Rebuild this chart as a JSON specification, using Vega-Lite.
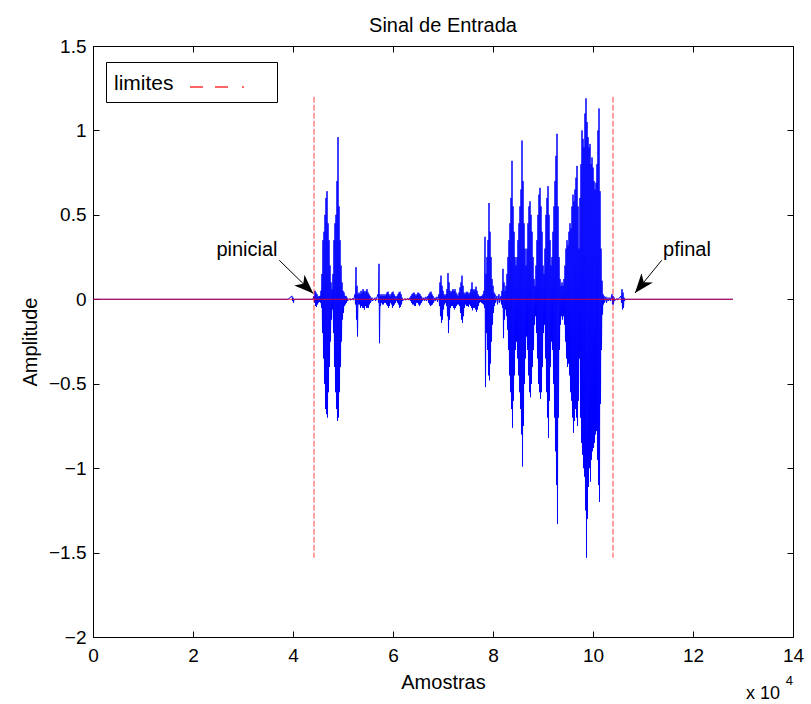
{
  "$schema": "https://vega.github.io/schema/vega-lite/v6.json",
  "width": 700,
  "height": 591,
  "autosize": "none",
  "padding": {"left": 93, "top": 46, "right": 18, "bottom": 67},
  "background": "white",
  "title": {"text": "Sinal de Entrada", "fontSize": 20, "fontWeight": "normal", "font": "Liberation Sans", "color": "black", "anchor": "middle", "baseline": "alphabetic", "offset": -15},
  "config": {
    "font": "Liberation Sans",
    "view": {"stroke": null},
    "axis": {"grid": false, "domainColor": "black", "tickColor": "black", "labelColor": "black", "titleColor": "black", "labelFontSize": 19, "titleFontSize": 20, "titleFontWeight": "normal", "labelFont": "Liberation Sans", "titleFont": "Liberation Sans", "tickSize": -6, "domainWidth": 1, "tickWidth": 1, "labelFlush": false, "labelOverlap": false}
  },
  "datasets": {
    "signal": [
      {"x":0,"y":0},{"x":39000,"y":0},{"x":39800,"y":0.02},{"x":39900,"y":-0.01},{"x":40000,"y":0.01},{"x":40100,"y":-0.02},{"x":40200,"y":0},{"x":44000,"y":0},
      {"x":44200,"y":0.02},{"x":44300,"y":-0.02},{"x":44400,"y":0.05},{"x":44500,"y":-0.04},{"x":44600,"y":0.04},{"x":44700,"y":-0.045},{"x":44800,"y":0.03},{"x":44900,"y":-0.03},
      {"x":45000,"y":0.015},{"x":45100,"y":-0.02},{"x":45200,"y":0.02},{"x":45300,"y":-0.015},{"x":45400,"y":0.02},{"x":45500,"y":-0.02},{"x":45600,"y":0.05},{"x":45700,"y":-0.05},
      {"x":45800,"y":0.15},{"x":45900,"y":-0.2},{"x":46000,"y":0.35},{"x":46100,"y":-0.35},{"x":46200,"y":0.4},{"x":46300,"y":-0.5},{"x":46400,"y":0.5},{"x":46500,"y":-0.65},
      {"x":46600,"y":0.6},{"x":46700,"y":-0.68},{"x":46800,"y":0.64},{"x":46900,"y":-0.7},{"x":47000,"y":0.45},{"x":47100,"y":-0.55},{"x":47200,"y":0.35},{"x":47300,"y":-0.4},
      {"x":47400,"y":0.2},{"x":47500,"y":-0.25},{"x":47600,"y":0.1},{"x":47700,"y":-0.12},{"x":47800,"y":0.06},{"x":47900,"y":-0.06},{"x":48000,"y":0.15},{"x":48100,"y":-0.2},
      {"x":48200,"y":0.35},{"x":48300,"y":-0.4},{"x":48400,"y":0.45},{"x":48500,"y":-0.55},{"x":48600,"y":0.5},{"x":48700,"y":-0.65},{"x":48800,"y":0.7},{"x":48900,"y":-0.72},
      {"x":49000,"y":0.96},{"x":49100,"y":-0.7},{"x":49200,"y":0.55},{"x":49300,"y":-0.55},{"x":49400,"y":0.35},{"x":49500,"y":-0.4},{"x":49600,"y":0.2},{"x":49700,"y":-0.25},
      {"x":49800,"y":0.1},{"x":49900,"y":-0.12},{"x":50000,"y":0.05},{"x":50100,"y":-0.08},{"x":50200,"y":0.04},{"x":50300,"y":-0.04},{"x":50400,"y":0.02},{"x":50500,"y":-0.03},
      {"x":50600,"y":0.02},{"x":50700,"y":-0.02},{"x":50800,"y":0.01},{"x":50900,"y":-0.01},{"x":51400,"y":0.005},{"x":51500,"y":-0.005},{"x":52000,"y":0.005},{"x":52100,"y":-0.005},
      {"x":52400,"y":0.03},{"x":52500,"y":-0.03},{"x":52600,"y":0.19},{"x":52700,"y":-0.12},{"x":52800,"y":0.08},{"x":52900,"y":-0.22},{"x":53000,"y":0.03},{"x":53100,"y":-0.03},
      {"x":53200,"y":0.04},{"x":53300,"y":-0.03},{"x":53400,"y":0.03},{"x":53500,"y":-0.05},{"x":53600,"y":0.05},{"x":53700,"y":-0.04},{"x":53800,"y":0.04},{"x":53900,"y":-0.05},
      {"x":54000,"y":0.06},{"x":54100,"y":-0.05},{"x":54200,"y":0.05},{"x":54300,"y":-0.06},{"x":54400,"y":0.04},{"x":54500,"y":-0.04},{"x":54600,"y":0.05},{"x":54700,"y":-0.05},
      {"x":54800,"y":0.06},{"x":54900,"y":-0.05},{"x":55000,"y":0.04},{"x":55100,"y":-0.05},{"x":55200,"y":0.03},{"x":55300,"y":-0.03},{"x":55400,"y":0.02},{"x":55500,"y":-0.02},
      {"x":55800,"y":0.01},{"x":55900,"y":-0.01},{"x":56400,"y":0.01},{"x":56500,"y":-0.01},{"x":57000,"y":0.03},{"x":57100,"y":-0.02},{"x":57200,"y":0.21},{"x":57300,"y":-0.26},
      {"x":57400,"y":0.03},{"x":57500,"y":-0.04},{"x":57600,"y":0.02},{"x":57700,"y":-0.02},{"x":57800,"y":0.03},{"x":57900,"y":-0.03},{"x":58000,"y":0.02},{"x":58100,"y":-0.03},
      {"x":58200,"y":0.03},{"x":58300,"y":-0.02},{"x":58400,"y":0.02},{"x":58500,"y":-0.02},{"x":58600,"y":0.03},{"x":58700,"y":-0.03},{"x":58800,"y":0.04},{"x":58900,"y":-0.04},
      {"x":59000,"y":0.045},{"x":59100,"y":-0.05},{"x":59200,"y":0.03},{"x":59300,"y":-0.04},{"x":59400,"y":0.02},{"x":59500,"y":-0.02},{"x":59600,"y":0.03},{"x":59700,"y":-0.03},
      {"x":59800,"y":0.04},{"x":59900,"y":-0.05},{"x":60000,"y":0.045},{"x":60100,"y":-0.04},{"x":60200,"y":0.03},{"x":60300,"y":-0.03},{"x":60400,"y":0.02},{"x":60500,"y":-0.02},
      {"x":60600,"y":0.01},{"x":60700,"y":-0.01},{"x":60800,"y":0.02},{"x":60900,"y":-0.02},{"x":61000,"y":0.03},{"x":61100,"y":-0.03},{"x":61200,"y":0.04},{"x":61300,"y":-0.05},
      {"x":61400,"y":0.045},{"x":61500,"y":-0.045},{"x":61600,"y":0.03},{"x":61700,"y":-0.03},{"x":61800,"y":0.01},{"x":61900,"y":-0.01},{"x":62400,"y":0.005},{"x":62500,"y":-0.005},
      {"x":63000,"y":0.005},{"x":63100,"y":-0.005},{"x":63400,"y":0.01},{"x":63500,"y":-0.01},{"x":63600,"y":0.02},{"x":63700,"y":-0.02},{"x":63800,"y":0.03},{"x":63900,"y":-0.03},
      {"x":64000,"y":0.035},{"x":64100,"y":-0.03},{"x":64200,"y":0.04},{"x":64300,"y":-0.04},{"x":64400,"y":0.03},{"x":64500,"y":-0.04},{"x":64600,"y":0.02},{"x":64700,"y":-0.02},
      {"x":64800,"y":0.03},{"x":64900,"y":-0.02},{"x":65000,"y":0.04},{"x":65100,"y":-0.03},{"x":65200,"y":0.035},{"x":65300,"y":-0.04},{"x":65400,"y":0.03},{"x":65500,"y":-0.03},
      {"x":65600,"y":0.02},{"x":65700,"y":-0.02},{"x":65800,"y":0.01},{"x":65900,"y":-0.01},{"x":66200,"y":0.01},{"x":66300,"y":-0.01},{"x":66600,"y":0.015},{"x":66700,"y":-0.01},
      {"x":67000,"y":0.02},{"x":67100,"y":-0.02},{"x":67200,"y":0.03},{"x":67300,"y":-0.03},{"x":67400,"y":0.04},{"x":67500,"y":-0.04},{"x":67600,"y":0.045},{"x":67700,"y":-0.035},
      {"x":67800,"y":0.03},{"x":67900,"y":-0.03},{"x":68000,"y":0.02},{"x":68100,"y":-0.02},{"x":68400,"y":0.01},{"x":68500,"y":-0.01},{"x":68800,"y":0.015},{"x":68900,"y":-0.015},
      {"x":69200,"y":0.03},{"x":69300,"y":-0.04},{"x":69400,"y":0.1},{"x":69500,"y":-0.1},{"x":69600,"y":0.14},{"x":69700,"y":-0.14},{"x":69800,"y":0.08},{"x":69900,"y":-0.12},
      {"x":70000,"y":0.05},{"x":70100,"y":-0.06},{"x":70200,"y":0.03},{"x":70300,"y":-0.03},{"x":70400,"y":0.02},{"x":70500,"y":-0.02},{"x":70600,"y":0.03},{"x":70700,"y":-0.04},
      {"x":70800,"y":0.06},{"x":70900,"y":-0.1},{"x":71000,"y":0.155},{"x":71100,"y":-0.2},{"x":71200,"y":0.1},{"x":71300,"y":-0.12},{"x":71400,"y":0.05},{"x":71500,"y":-0.05},
      {"x":71600,"y":0.04},{"x":71700,"y":-0.04},{"x":71800,"y":0.05},{"x":71900,"y":-0.04},{"x":72000,"y":0.06},{"x":72100,"y":-0.05},{"x":72200,"y":0.05},{"x":72300,"y":-0.06},
      {"x":72400,"y":0.06},{"x":72500,"y":-0.05},{"x":72600,"y":0.04},{"x":72700,"y":-0.04},{"x":72800,"y":0.03},{"x":72900,"y":-0.03},{"x":73000,"y":0.02},{"x":73100,"y":-0.03},
      {"x":73200,"y":0.04},{"x":73300,"y":-0.04},{"x":73400,"y":0.07},{"x":73500,"y":-0.08},{"x":73600,"y":0.1},{"x":73700,"y":-0.12},{"x":73800,"y":0.14},{"x":73900,"y":-0.14},
      {"x":74000,"y":0.08},{"x":74100,"y":-0.1},{"x":74200,"y":0.04},{"x":74300,"y":-0.05},{"x":74400,"y":0.03},{"x":74500,"y":-0.03},{"x":74600,"y":0.04},{"x":74700,"y":-0.04},
      {"x":74800,"y":0.045},{"x":74900,"y":-0.04},{"x":75000,"y":0.04},{"x":75100,"y":-0.045},{"x":75200,"y":0.03},{"x":75300,"y":-0.03},{"x":75400,"y":0.04},{"x":75500,"y":-0.04},
      {"x":75600,"y":0.06},{"x":75700,"y":-0.05},{"x":75800,"y":0.1},{"x":75900,"y":-0.065},{"x":76000,"y":0.06},{"x":76100,"y":-0.05},{"x":76200,"y":0.05},{"x":76300,"y":-0.05},
      {"x":76400,"y":0.06},{"x":76500,"y":-0.06},{"x":76600,"y":0.075},{"x":76700,"y":-0.075},{"x":76800,"y":0.05},{"x":76900,"y":-0.06},{"x":77000,"y":0.03},{"x":77100,"y":-0.04},
      {"x":77200,"y":0.02},{"x":77300,"y":-0.02},{"x":77400,"y":0.015},{"x":77500,"y":-0.015},{"x":77600,"y":0.02},{"x":77700,"y":-0.02},{"x":77800,"y":0.02},{"x":77900,"y":-0.025},
      {"x":78000,"y":0.03},{"x":78100,"y":-0.03},{"x":78200,"y":0.05},{"x":78300,"y":-0.05},{"x":78400,"y":0.37},{"x":78500,"y":-0.52},{"x":78600,"y":0.15},{"x":78700,"y":-0.2},
      {"x":78800,"y":0.25},{"x":78900,"y":-0.3},{"x":79000,"y":0.35},{"x":79100,"y":-0.45},{"x":79200,"y":0.57},{"x":79300,"y":-0.48},{"x":79400,"y":0.4},{"x":79500,"y":-0.38},
      {"x":79600,"y":0.25},{"x":79700,"y":-0.25},{"x":79800,"y":0.12},{"x":79900,"y":-0.15},{"x":80000,"y":0.08},{"x":80100,"y":-0.08},{"x":80200,"y":0.04},{"x":80300,"y":-0.04},
      {"x":80400,"y":0.03},{"x":80500,"y":-0.02},{"x":80800,"y":0.02},{"x":80900,"y":-0.03},{"x":81200,"y":0.03},{"x":81300,"y":-0.02},{"x":81600,"y":0.02},{"x":81700,"y":-0.03},
      {"x":81800,"y":0.05},{"x":81900,"y":-0.05},{"x":82000,"y":0.18},{"x":82100,"y":-0.23},{"x":82200,"y":0.1},{"x":82300,"y":-0.12},{"x":82400,"y":0.05},{"x":82500,"y":-0.06},
      {"x":82600,"y":0.08},{"x":82700,"y":-0.1},{"x":82800,"y":0.15},{"x":82900,"y":-0.18},{"x":83000,"y":0.25},{"x":83100,"y":-0.3},{"x":83200,"y":0.35},{"x":83300,"y":-0.45},
      {"x":83400,"y":0.45},{"x":83500,"y":-0.55},{"x":83600,"y":0.6},{"x":83700,"y":-0.65},{"x":83800,"y":0.82},{"x":83900,"y":-0.76},{"x":84000,"y":0.55},{"x":84100,"y":-0.6},
      {"x":84200,"y":0.4},{"x":84300,"y":-0.45},{"x":84400,"y":0.25},{"x":84500,"y":-0.3},{"x":84600,"y":0.2},{"x":84700,"y":-0.25},{"x":84800,"y":0.25},{"x":84900,"y":-0.35},
      {"x":85000,"y":0.35},{"x":85100,"y":-0.45},{"x":85200,"y":0.45},{"x":85300,"y":-0.55},{"x":85400,"y":0.55},{"x":85500,"y":-0.65},{"x":85600,"y":0.65},{"x":85700,"y":-0.8},
      {"x":85800,"y":0.94},{"x":85900,"y":-0.99},{"x":86000,"y":0.7},{"x":86100,"y":-0.75},{"x":86200,"y":0.45},{"x":86300,"y":-0.5},{"x":86400,"y":0.3},{"x":86500,"y":-0.35},
      {"x":86600,"y":0.2},{"x":86700,"y":-0.22},{"x":86800,"y":0.3},{"x":86900,"y":-0.3},{"x":87000,"y":0.45},{"x":87100,"y":-0.45},{"x":87200,"y":0.55},{"x":87300,"y":-0.55},
      {"x":87400,"y":0.58},{"x":87500,"y":-0.58},{"x":87600,"y":0.5},{"x":87700,"y":-0.5},{"x":87800,"y":0.4},{"x":87900,"y":-0.4},{"x":88000,"y":0.25},{"x":88100,"y":-0.3},
      {"x":88200,"y":0.12},{"x":88300,"y":-0.15},{"x":88400,"y":0.08},{"x":88500,"y":-0.1},{"x":88600,"y":0.2},{"x":88700,"y":-0.2},{"x":88800,"y":0.35},{"x":88900,"y":-0.35},
      {"x":89000,"y":0.5},{"x":89100,"y":-0.5},{"x":89200,"y":0.62},{"x":89300,"y":-0.55},{"x":89400,"y":0.66},{"x":89500,"y":-0.59},{"x":89600,"y":0.55},{"x":89700,"y":-0.55},
      {"x":89800,"y":0.4},{"x":89900,"y":-0.4},{"x":90000,"y":0.2},{"x":90100,"y":-0.2},{"x":90200,"y":0.15},{"x":90300,"y":-0.15},{"x":90400,"y":0.3},{"x":90500,"y":-0.35},
      {"x":90600,"y":0.5},{"x":90700,"y":-0.55},{"x":90800,"y":0.6},{"x":90900,"y":-0.7},{"x":91000,"y":0.67},{"x":91100,"y":-0.82},{"x":91200,"y":0.5},{"x":91300,"y":-0.6},
      {"x":91400,"y":0.35},{"x":91500,"y":-0.4},{"x":91600,"y":0.2},{"x":91700,"y":-0.25},{"x":91800,"y":0.25},{"x":91900,"y":-0.3},{"x":92000,"y":0.4},{"x":92100,"y":-0.5},
      {"x":92200,"y":0.55},{"x":92300,"y":-0.7},{"x":92400,"y":0.7},{"x":92500,"y":-0.9},{"x":92600,"y":0.85},{"x":92700,"y":-1.1},{"x":92800,"y":0.98},{"x":92900,"y":-1.33},
      {"x":93000,"y":0.55},{"x":93100,"y":-0.7},{"x":93200,"y":0.25},{"x":93300,"y":-0.3},{"x":93400,"y":0.12},{"x":93500,"y":-0.15},{"x":93600,"y":0.08},{"x":93700,"y":-0.1},
      {"x":93800,"y":0.1},{"x":93900,"y":-0.12},{"x":94000,"y":0.08},{"x":94100,"y":-0.1},{"x":94200,"y":0.12},{"x":94300,"y":-0.15},{"x":94400,"y":0.2},{"x":94500,"y":-0.25},
      {"x":94600,"y":0.3},{"x":94700,"y":-0.35},{"x":94800,"y":0.35},{"x":94900,"y":-0.4},{"x":95000,"y":0.32},{"x":95100,"y":-0.38},{"x":95200,"y":0.4},{"x":95300,"y":-0.45},
      {"x":95400,"y":0.45},{"x":95500,"y":-0.55},{"x":95600,"y":0.42},{"x":95700,"y":-0.6},{"x":95800,"y":0.55},{"x":95900,"y":-0.7},{"x":96000,"y":0.62},{"x":96100,"y":-0.79},
      {"x":96200,"y":0.58},{"x":96300,"y":-0.72},{"x":96400,"y":0.65},{"x":96500,"y":-0.65},{"x":96600,"y":0.72},{"x":96700,"y":-0.7},{"x":96800,"y":0.79},{"x":96900,"y":-0.75},
      {"x":97000,"y":0.55},{"x":97100,"y":-0.6},{"x":97200,"y":0.3},{"x":97300,"y":-0.35},{"x":97400,"y":0.6},{"x":97500,"y":-0.7},{"x":97600,"y":0.8},{"x":97700,"y":-0.85},
      {"x":97800,"y":1.0},{"x":97900,"y":-0.92},{"x":98000,"y":0.95},{"x":98100,"y":-1.0},{"x":98200,"y":0.9},{"x":98300,"y":-1.05},{"x":98400,"y":1.1},{"x":98500,"y":-1.25},
      {"x":98600,"y":1.19},{"x":98700,"y":-1.53},{"x":98800,"y":1.05},{"x":98900,"y":-1.3},{"x":99000,"y":0.96},{"x":99100,"y":-1.11},{"x":99200,"y":0.9},{"x":99300,"y":-1.0},
      {"x":99400,"y":0.92},{"x":99500,"y":-1.08},{"x":99600,"y":0.8},{"x":99700,"y":-0.95},{"x":99800,"y":0.84},{"x":99900,"y":-0.9},{"x":100000,"y":0.78},{"x":100100,"y":-0.88},
      {"x":100200,"y":0.7},{"x":100300,"y":-0.85},{"x":100400,"y":0.65},{"x":100500,"y":-0.8},{"x":100600,"y":0.69},{"x":100700,"y":-0.78},{"x":100800,"y":0.8},{"x":100900,"y":-0.95},
      {"x":101000,"y":1.0},{"x":101100,"y":-1.1},{"x":101200,"y":1.13},{"x":101300,"y":-1.2},{"x":101400,"y":0.64},{"x":101500,"y":-0.62},{"x":101600,"y":0.3},{"x":101700,"y":-0.3},
      {"x":101800,"y":0.11},{"x":101900,"y":-0.09},{"x":102000,"y":0.03},{"x":102100,"y":-0.03},{"x":102200,"y":0.02},{"x":102300,"y":-0.02},{"x":102600,"y":0.015},{"x":102700,"y":-0.02},
      {"x":103000,"y":0.01},{"x":103100,"y":-0.01},{"x":103400,"y":0.01},{"x":103500,"y":-0.01},{"x":103800,"y":0.03},{"x":103900,"y":-0.03},{"x":104000,"y":0.02},{"x":104100,"y":-0.03},
      {"x":104200,"y":0.01},{"x":104300,"y":-0.01},{"x":104800,"y":0.005},{"x":104900,"y":-0.005},{"x":105600,"y":0.02},{"x":105700,"y":-0.02},{"x":105800,"y":0.06},{"x":105900,"y":-0.06},
      {"x":106000,"y":0.04},{"x":106100,"y":-0.05},{"x":106200,"y":0.01},{"x":106300,"y":-0.01},{"x":106400,"y":0},{"x":128000,"y":0}
    ],
    "zero": [{"x": 0, "y": 0}, {"x": 128000, "y": 0}],
    "limits": [{"x": 44200, "s": "limites"}, {"x": 104000, "s": "limites"}],
    "annot": [
      {"name": "pinicial", "x": 30800, "y": 0.29, "ax": 37260, "ay": 0.231, "px": 44060, "py": 0.034},
      {"name": "pfinal", "x": 118800, "y": 0.29, "ax": 113740, "ay": 0.231, "px": 108400, "py": 0.037}
    ],
    "note": [{"base": "x 10", "exp": "4"}]
  },
  "layer": [
    {
      "data": {"name": "signal"},
      "mark": {"type": "line", "color": "#0000ff", "strokeWidth": 1},
      "encoding": {
        "x": {"field": "x", "type": "quantitative", "scale": {"domain": [0, 140000], "nice": false, "zero": false},
              "axis": {"orient": "bottom", "values": [0, 20000, 40000, 60000, 80000, 100000, 120000, 140000], "labelExpr": "datum.value/10000", "title": "Amostras", "labelPadding": 15, "titlePadding": 7}},
        "y": {"field": "y", "type": "quantitative", "scale": {"domain": [-2, 1.5], "nice": false, "zero": false},
              "axis": {"orient": "left", "values": [-2, -1.5, -1, -0.5, 0, 0.5, 1, 1.5], "format": "~g", "title": "Amplitude", "labelPadding": 13, "titlePadding": 8}}
      }
    },
    {
      "data": {"name": "zero"},
      "mark": {"type": "line", "color": "#ff0000", "strokeWidth": 1, "opacity": 0.75},
      "encoding": {
        "x": {"field": "x", "type": "quantitative", "axis": {"orient": "top", "values": [0, 20000, 40000, 60000, 80000, 100000, 120000, 140000], "labels": false, "title": null}},
        "y": {"field": "y", "type": "quantitative", "axis": {"orient": "right", "values": [-2, -1.5, -1, -0.5, 0, 0.5, 1, 1.5], "labels": false, "title": null}}
      }
    },
    {
      "data": {"name": "limits"},
      "mark": {"type": "rule", "strokeWidth": 1, "strokeDash": [6, 2], "opacity": 0.75},
      "encoding": {
        "x": {"field": "x", "type": "quantitative", "axis": null},
        "y": {"datum": 1.2, "type": "quantitative", "axis": null},
        "y2": {"datum": -1.53},
        "color": {"field": "s", "type": "nominal", "scale": {"range": ["#ff0000"]},
                  "legend": {"title": "limites", "titleOrient": "left", "titleAngle": 0, "titleAnchor": "end", "titleBaseline": "alphabetic", "titleFontSize": 21, "titleFontWeight": "normal", "titleFont": "Liberation Sans", "titleColor": "black", "titlePadding": 4,
                             "labelExpr": "''", "labelOffset": 0, "orient": "none", "legendX": 13, "legendY": 16, "strokeColor": "black", "fillColor": "white", "padding": 8,
                             "symbolType": "M0,0.45 L6.9,0.45", "symbolSize": 484, "symbolDash": [13, 12, 13, 14, 2, 60], "symbolStrokeWidth": 1.5, "symbolFillColor": "transparent", "symbolOpacity": 0.8}}
      }
    },
    {
      "data": {"name": "annot"},
      "mark": {"type": "rule", "color": "black", "strokeWidth": 1},
      "encoding": {
        "x": {"field": "ax", "type": "quantitative", "axis": null},
        "y": {"field": "ay", "type": "quantitative", "axis": null},
        "x2": {"field": "px"},
        "y2": {"field": "py"}
      }
    },
    {
      "data": {"name": "annot"},
      "transform": [{"filter": "datum.name === 'pinicial'"}],
      "mark": {"type": "point", "shape": "M0,0 L-1,-0.38 L-0.72,0 L-1,0.38 Z", "filled": true, "color": "black", "opacity": 1, "size": 1500, "angle": 44, "strokeWidth": 0},
      "encoding": {
        "x": {"field": "px", "type": "quantitative", "axis": null},
        "y": {"field": "py", "type": "quantitative", "axis": null}
      }
    },
    {
      "data": {"name": "annot"},
      "transform": [{"filter": "datum.name === 'pfinal'"}],
      "mark": {"type": "point", "shape": "M0,0 L-1,-0.38 L-0.72,0 L-1,0.38 Z", "filled": true, "color": "black", "opacity": 1, "size": 1500, "angle": 129, "strokeWidth": 0},
      "encoding": {
        "x": {"field": "px", "type": "quantitative", "axis": null},
        "y": {"field": "py", "type": "quantitative", "axis": null}
      }
    },
    {
      "data": {"name": "annot"},
      "mark": {"type": "text", "fontSize": 20, "font": "Liberation Sans", "color": "black", "align": "center", "baseline": "middle"},
      "encoding": {
        "x": {"field": "x", "type": "quantitative", "axis": null},
        "y": {"field": "y", "type": "quantitative", "axis": null},
        "text": {"field": "name"}
      }
    },
    {
      "data": {"name": "note"},
      "mark": {"type": "text", "fontSize": 18, "font": "Liberation Sans", "color": "black", "align": "right", "baseline": "alphabetic", "dx": -13, "dy": 62},
      "encoding": {
        "x": {"datum": 140000, "type": "quantitative", "axis": null},
        "y": {"datum": -2, "type": "quantitative", "axis": null},
        "text": {"field": "base"}
      }
    },
    {
      "data": {"name": "note"},
      "mark": {"type": "text", "fontSize": 13, "font": "Liberation Sans", "color": "black", "align": "right", "baseline": "alphabetic", "dx": 0, "dy": 48},
      "encoding": {
        "x": {"datum": 140000, "type": "quantitative", "axis": null},
        "y": {"datum": -2, "type": "quantitative", "axis": null},
        "text": {"field": "exp"}
      }
    }
  ],
  "resolve": {"axis": {"x": "independent", "y": "independent"}}
}
